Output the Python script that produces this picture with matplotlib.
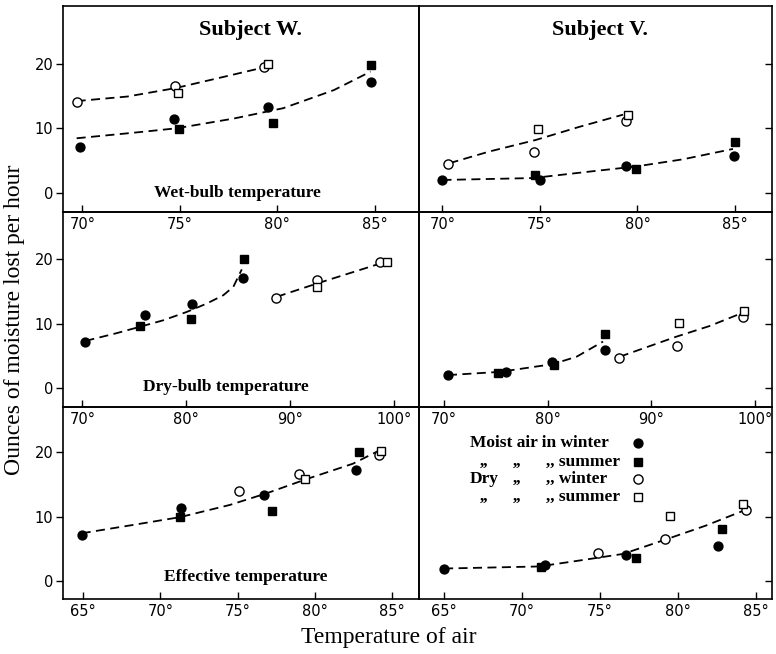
#!/usr/bin/env python3
"""Moisture lost per hour against air temperature, subjects W and V."""

import matplotlib

matplotlib.use("Agg")
import matplotlib.pyplot as plt

SERIF = "Liberation Serif"
SANS = "DejaVu Sans"

# tick values of each temperature scale
wet_ticks = [70, 75, 80, 85]
dry_ticks = [70, 80, 90, 100]
eff_ticks = [65, 70, 75, 80, 85]
moisture_ticks = [0, 10, 20]

# (temperature, ounces per hour)
# mw = moist air winter, ms = moist summer, dw = dry winter, ds = dry summer

# Subject W, wet-bulb
w_wet_mw = [(69.85, 7.1), (74.7, 11.5), (79.5, 13.3), (84.8, 17.1)]
w_wet_ms = [(74.93, 9.9), (79.8, 10.8), (84.8, 19.8)]
w_wet_dw = [(69.7, 14.1), (74.76, 16.6), (79.3, 19.4)]
w_wet_ds = [(74.9, 15.4), (79.5, 19.9)]
w_wet_curve_moist = [(69.7, 8.45), (72.6, 9.3), (74.85, 10.0), (77.76, 11.5),
                     (80.3, 13.1), (82.9, 15.9), (84.78, 18.75)]
w_wet_curve_dry = [(69.7, 14.2), (72.3, 14.9), (74.76, 16.2), (76.9, 17.7), (79.3, 19.4)]

# Subject W, dry-bulb
w_dry_mw = [(70.26, 7.1), (76.05, 11.3), (80.55, 13.1), (85.5, 17.0)]
w_dry_ms = [(75.56, 9.65), (80.48, 10.7), (85.6, 19.95)]
w_dry_dw = [(88.7, 14.0), (92.6, 16.7), (98.7, 19.5)]
w_dry_ds = [(92.6, 15.6), (99.4, 19.5)]
w_dry_curve_moist = [(70.3, 7.3), (73.3, 8.5), (75.56, 9.5), (77.8, 10.5), (80.07, 11.8),
                     (82.0, 13.1), (83.6, 14.4), (84.56, 15.7), (85.37, 18.4)]
w_dry_curve_dry = [(88.75, 14.15), (92.6, 16.2), (98.7, 19.3)]

# Subject W, effective
w_eff_mw = [(64.92, 7.1), (71.33, 11.4), (76.71, 13.3), (82.64, 17.2)]
w_eff_ms = [(71.29, 9.9), (77.23, 10.85), (82.85, 19.95)]
w_eff_dw = [(75.1, 14.0), (78.97, 16.6), (84.12, 19.5)]
w_eff_ds = [(79.34, 15.8), (84.3, 20.2)]
w_eff_curve = [(64.92, 7.4), (68.25, 8.7), (71.27, 9.9), (74.5, 11.8), (76.87, 13.6),
               (79.45, 15.8), (82.46, 18.2), (84.2, 20.3)]

# Subject V, wet-bulb
v_wet_mw = [(69.98, 2.0), (74.98, 2.0), (79.42, 4.1), (84.95, 5.7)]
v_wet_ms = [(74.76, 2.8), (79.94, 3.7), (85.0, 7.95)]
v_wet_dw = [(70.27, 4.5), (74.7, 6.4), (79.4, 11.05)]
v_wet_ds = [(74.9, 9.9), (79.5, 12.1)]
v_wet_curve_moist = [(70.0, 2.0), (74.64, 2.3), (77.55, 3.3), (79.95, 4.1),
                     (82.34, 5.2), (84.9, 6.8)]
v_wet_curve_dry = [(70.36, 4.6), (72.4, 6.4), (74.8, 8.2), (77.0, 10.2), (79.26, 12.1)]

# Subject V, dry-bulb
v_dry_mw = [(70.4, 2.0), (75.96, 2.5), (80.4, 4.1), (85.5, 5.9)]
v_dry_ms = [(75.2, 2.4), (80.6, 3.5), (85.5, 8.3)]
v_dry_dw = [(86.9, 4.7), (92.5, 6.45), (98.86, 11.05)]
v_dry_ds = [(92.7, 10.1), (98.9, 12.0)]
v_dry_curve_moist = [(70.4, 2.0), (75.4, 2.5), (80.5, 3.7), (82.8, 4.85), (85.35, 7.2)]
v_dry_curve_dry = [(86.96, 4.85), (92.4, 7.95), (95.6, 9.6), (98.86, 11.7)]

# Subject V, effective
v_eff_mw = [(65.03, 1.93), (71.5, 2.5), (76.7, 4.07), (82.6, 5.5)]
v_eff_ms = [(71.24, 2.24), (77.3, 3.55), (82.8, 8.1)]
v_eff_dw = [(74.87, 4.4), (79.2, 6.5), (84.36, 10.96)]
v_eff_ds = [(79.5, 10.07), (84.15, 11.9)]
v_eff_curve = [(65.03, 1.93), (67.9, 2.08), (71.1, 2.25), (73.5, 3.1), (76.5, 4.2),
               (79.3, 6.5), (81.8, 8.6), (84.3, 11.0)]

MARKERS = {
    "mw": dict(marker="o", ms=6.4, mfc="black", mec="black"),
    "ms": dict(marker="s", ms=5.6, mfc="black", mec="black"),
    "dw": dict(marker="o", ms=6.6, mfc="white", mec="black", mew=1.0),
    "ds": dict(marker="s", ms=6.0, mfc="white", mec="black", mew=1.0),
}

# figure-pixel layout of the hand-drawn frame (776 x 654)
FIG_W, FIG_H = 776, 654
COL_X = [(63, 418.5), (418.5, 772)]
ROW_Y = [(6, 212), (212, 407), (407, 599)]


def add_axes(fig, row, col):
    x0, x1 = COL_X[col]
    y0, y1 = ROW_Y[row]
    ax = fig.add_axes([x0 / FIG_W, 1 - y1 / FIG_H, (x1 - x0) / FIG_W, (y1 - y0) / FIG_H])
    ax.patch.set_visible(False)
    return ax


def draw_panel(ax, groups, curves, ticks, xlim, ylim, left):
    for pts in curves:
        t, v = zip(*pts)
        ax.plot(t, v, color="black", lw=1.3, dashes=(5, 3), zorder=2)
    for key in ("mw", "ms", "dw", "ds"):
        t, v = zip(*groups[key])
        ax.plot(t, v, ls="none", zorder=3, clip_on=False, **MARKERS[key])

    ax.set_xlim(*xlim)
    ax.set_ylim(*ylim)
    ax.set_xticks(ticks)
    ax.set_xticklabels([f"{t}°" for t in ticks], family=SANS, fontsize=10.5)
    ax.tick_params(axis="x", direction="in", length=5, width=1.0, pad=3.5)
    ax.set_yticks(moisture_ticks)
    if left:
        ax.set_yticklabels([str(v) for v in moisture_ticks], family=SANS, fontsize=10.5)
        ax.tick_params(axis="y", direction="out", length=5, width=1.0, pad=2)
    else:
        ax.yaxis.tick_right()
        ax.tick_params(axis="y", direction="in", length=5, width=1.0, labelright=False)
    for spine in ax.spines.values():
        spine.set_linewidth(1.2)


def draw_legend(ax):
    rows = [
        ("Moist air in winter", None, None, None, "mw"),
        (None, ",,", ",,", ",, summer", "ms"),
        ("Dry", None, ",,", ",, winter", "dw"),
        (None, ",,", ",,", ",, summer", "ds"),
    ]
    ys = [0.8125, 0.7135, 0.625, 0.531]
    kw = dict(transform=ax.transAxes, family=SERIF, fontweight="bold", fontsize=12.5, va="center")
    for (first, d1, d2, last, key), y in zip(rows, ys):
        if first:
            ax.text(0.1445, y, first, ha="left", **kw)
        if d1:
            ax.text(0.173, y, d1, ha="left", **kw)
        if d2:
            ax.text(0.266, y, d2, ha="left", **kw)
        if last:
            ax.text(0.362, y, last, ha="left", **kw)
        ax.plot([0.62], [y], transform=ax.transAxes, ls="none", clip_on=False, **MARKERS[key])


def main() -> int:
    plt.rcParams["font.family"] = SERIF
    fig = plt.figure(figsize=(FIG_W / 100, FIG_H / 100), dpi=100)

    ylims = [(-2.95, 28.9), (-2.95, 27.3), (-2.8, 27.0)]
    panels = [
        (0, 0, dict(mw=w_wet_mw, ms=w_wet_ms, dw=w_wet_dw, ds=w_wet_ds),
         [w_wet_curve_moist, w_wet_curve_dry], wet_ticks, (69.0, 87.24)),
        (0, 1, dict(mw=v_wet_mw, ms=v_wet_ms, dw=v_wet_dw, ds=v_wet_ds),
         [v_wet_curve_moist, v_wet_curve_dry], wet_ticks, (68.77, 86.9)),
        (1, 0, dict(mw=w_dry_mw, ms=w_dry_ms, dw=w_dry_dw, ds=w_dry_ds),
         [w_dry_curve_moist, w_dry_curve_dry], dry_ticks, (68.14, 102.4)),
        (1, 1, dict(mw=v_dry_mw, ms=v_dry_ms, dw=v_dry_dw, ds=v_dry_ds),
         [v_dry_curve_moist, v_dry_curve_dry], dry_ticks, (67.56, 101.64)),
        (2, 0, dict(mw=w_eff_mw, ms=w_eff_ms, dw=w_eff_dw, ds=w_eff_ds),
         [w_eff_curve], eff_ticks, (63.71, 86.7)),
        (2, 1, dict(mw=v_eff_mw, ms=v_eff_ms, dw=v_eff_dw, ds=v_eff_ds),
         [v_eff_curve], eff_ticks, (63.39, 86.03)),
    ]

    axes = {}
    for row, col, groups, curves, ticks, xlim in panels:
        ax = add_axes(fig, row, col)
        draw_panel(ax, groups, curves, ticks, xlim, ylims[row], left=(col == 0))
        axes[(row, col)] = ax

    title_kw = dict(family=SERIF, fontweight="bold", fontsize=16, ha="center", va="center")
    axes[(0, 0)].text(0.527, 0.883, "Subject W.", transform=axes[(0, 0)].transAxes, **title_kw)
    axes[(0, 1)].text(0.513, 0.883, "Subject V.", transform=axes[(0, 1)].transAxes, **title_kw)

    label_kw = dict(family=SERIF, fontweight="bold", fontsize=12.5, ha="center", va="center")
    axes[(0, 0)].text(0.49, 0.092, "Wet-bulb temperature", transform=axes[(0, 0)].transAxes, **label_kw)
    axes[(1, 0)].text(0.459, 0.103, "Dry-bulb temperature", transform=axes[(1, 0)].transAxes, **label_kw)
    axes[(2, 0)].text(0.515, 0.115, "Effective temperature", transform=axes[(2, 0)].transAxes, **label_kw)

    draw_legend(axes[(2, 1)])

    fig.text(15 / FIG_W, 1 - 320 / FIG_H, "Ounces of moisture lost per hour", rotation=90,
             family=SERIF, fontsize=17, ha="center", va="center")
    fig.text(389 / FIG_W, 1 - 637 / FIG_H, "Temperature of air",
             family=SERIF, fontsize=17, ha="center", va="center")

    fig.savefig("out.png", dpi=100)
    plt.close(fig)
    return 0


if __name__ == "__main__":
    raise SystemExit(main())
